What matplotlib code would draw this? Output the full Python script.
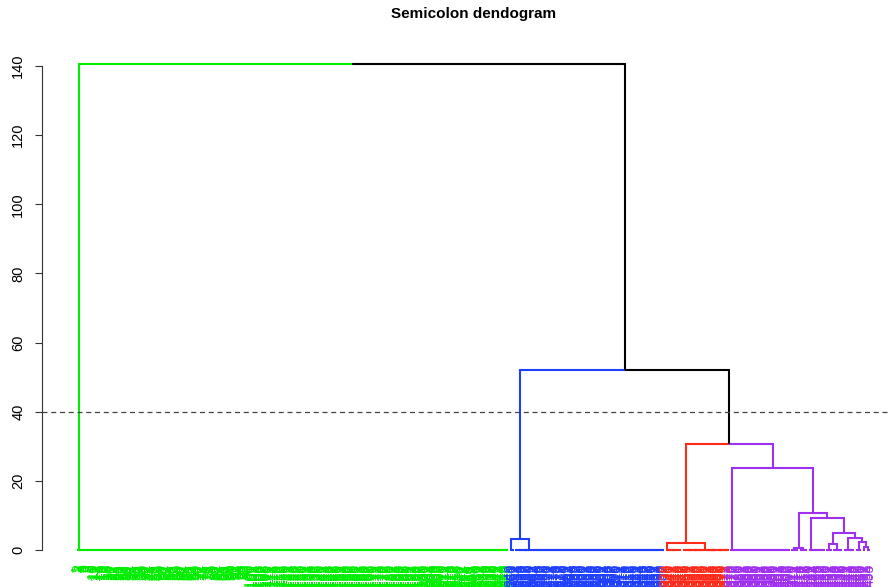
import matplotlib
matplotlib.use("Agg")
import matplotlib.pyplot as plt
from matplotlib.collections import LineCollection

plt.rcParams['font.family'] = ['Liberation Sans', 'DejaVu Sans']

# clusters (k = 4), left to right
cluster_colors = ['#00ee00', '#1f3fff', '#ff2a1a', '#a030f0']
cluster_sizes = [248, 89, 37, 81]

# merge heights
h_top = 140.6          # green vs rest
h_blue_rest = 52.0     # blue vs (red + purple)
h_red_purple = 30.6
h_blue = 3.1
h_red = 2.0
purple_heights = [23.6, 10.7, 9.2, 4.8, 3.4, 2.4, 0.8, 0.5, 1.65]
cut_height = 40

# sub-group sizes inside clusters
blue_parts = [3, 10, 76]
red_parts = [10, 27]
purple_parts = [35, 5, 5, 10, 4, 6, 7, 4, 2, 3]

yticks = [0, 20, 40, 60, 80, 100, 120, 140]

N = sum(cluster_sizes)
counter = [0]


def take(n):
    ids = list(range(counter[0], counter[0] + n))
    counter[0] += n
    return ids


def bal(ids):
    if len(ids) == 1:
        return ids[0]
    m = len(ids) // 2
    return {'h': 0.0, 'kids': [bal(ids[:m]), bal(ids[m:])]}


def chain(ids):
    t = ids[-1]
    for i in reversed(ids[:-1]):
        t = {'h': 0.0, 'kids': [i, t]}
    return t


def node(h, a, b, col=None):
    d = {'h': h, 'kids': [a, b]}
    if col is not None:
        d['col'] = col
    return d


# build the tree
green = chain(take(cluster_sizes[0]))
green['col'] = cluster_colors[0]

b_left = bal(take(blue_parts[0]))
b_right = node(0.0, bal(take(blue_parts[1])), chain(take(blue_parts[2])))
blue = node(h_blue, b_left, b_right, cluster_colors[1])

red = node(h_red, chain(take(red_parts[0])), bal(take(red_parts[1])), cluster_colors[2])

pa = chain(take(purple_parts[0]))
pb = node(purple_heights[7], bal(take(purple_parts[1])), bal(take(purple_parts[2])))
pc = chain(take(purple_parts[3]))
pd = node(purple_heights[8], bal(take(purple_parts[4])), bal(take(purple_parts[5])))
pe = bal(take(purple_parts[6]))
pf = node(purple_heights[5], bal(take(purple_parts[7])),
          node(purple_heights[6], bal(take(purple_parts[8])), bal(take(purple_parts[9]))))
purple = node(purple_heights[0], pa,
              node(purple_heights[1], pb,
                   node(purple_heights[2], pc,
                        node(purple_heights[3], pd,
                             node(purple_heights[4], pe, pf)))), cluster_colors[3])

root = node(h_top, green,
            node(h_blue_rest, blue, node(h_red_purple, red, purple)), 'black')

segs = []
cols = []
leaf_col = {}


def layout(nd, col):
    if isinstance(nd, int):
        leaf_col[nd] = col
        return float(nd), 0.0, col
    col = nd.get('col', col)
    parts = [layout(k, col) for k in nd['kids']]
    x = sum(p[0] for p in parts) / len(parts)
    h = nd['h']
    for kx, kh, kc in parts:
        segs.append([(x, h), (kx, h), (kx, kh)])
        cols.append(kc)
    return x, h, col


layout(root, 'black')

W, H = 893, 587
fig = plt.figure(figsize=(W / 100, H / 100), dpi=100)

# pixel geometry
px_left, px_right = 42, 891
px_top, px_bot = 30, 560
px_zero, px_per_unit = 550, 3.457
leaf0_px, leaf_last_px = 77, 870
ppl = (leaf_last_px - leaf0_px) / (N - 1)

ax = fig.add_axes([px_left / W, 1 - px_bot / H, (px_right - px_left) / W, (px_bot - px_top) / H])
ax.set_xlim((px_left - leaf0_px) / ppl, (px_right - leaf0_px) / ppl)
ax.set_ylim(-(px_bot - px_zero) / px_per_unit, (px_zero - px_top) / px_per_unit)

lc = LineCollection(segs, colors=cols, linewidths=1.5, capstyle='butt', joinstyle='miter')
ax.add_collection(lc)

ax.axhline(cut_height, color='#444444', lw=0.9, ls=(0, (4, 3)))

# leaf labels
label_y = -(564 - px_zero) / px_per_unit
for i in range(N):
    ax.text(i, label_y, str(i + 1), rotation=90, ha='center', va='top',
            fontsize=10, color=leaf_col[i], clip_on=False)

for s in ['top', 'right', 'bottom']:
    ax.spines[s].set_visible(False)
ax.spines['left'].set_bounds(0, 140)
ax.spines['left'].set_linewidth(0.8)
ax.spines['left'].set_color('#333333')
ax.set_xticks([])
ax.set_yticks(yticks)
ax.set_yticklabels([str(v) for v in yticks], rotation=90, va='center')
ax.tick_params(axis='y', length=5, width=0.8, pad=7, labelsize=10.5, color='#333333')

fig.text(474 / W, 1 - 14 / H, 'Semicolon dendogram', ha='center', va='center',
         fontsize=11, fontweight='bold')

fig.savefig('out.png', dpi=100)
